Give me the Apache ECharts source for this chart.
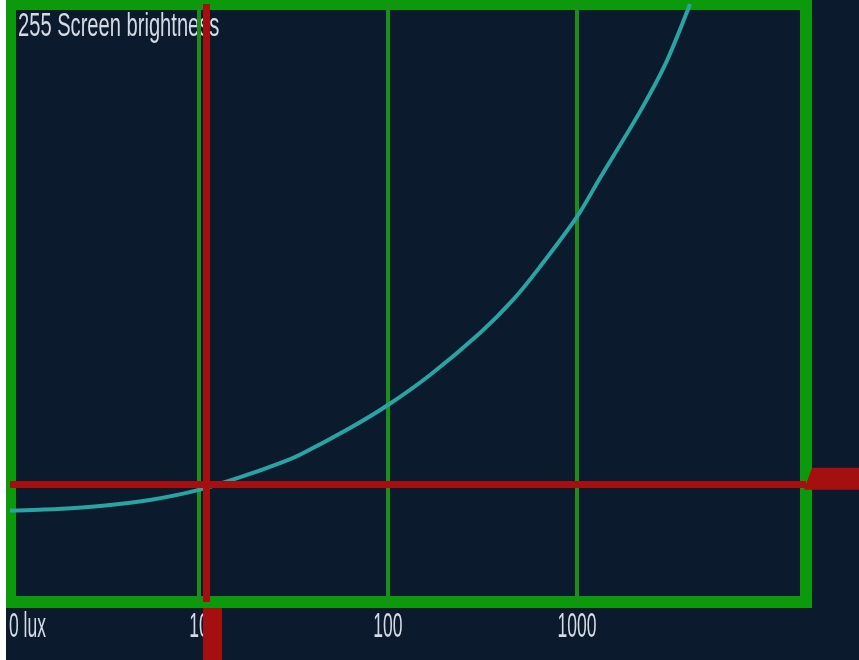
<!DOCTYPE html>
<html><head><meta charset="utf-8">
<script src="https://cdn.jsdelivr.net/npm/echarts@6.0.0/dist/echarts.min.js"></script>
<style>
html,body{margin:0;padding:0;background:#ffffff;width:859px;height:660px;overflow:hidden}
#c{position:absolute;left:6px;top:0;width:853px;height:660px;background:#0b1a2d}
</style>
</head><body><div id="c"></div>
<script>
// ---- data ----
const luxValues = [1, 1.8, 3, 5.5, 10, 18.6, 27, 34, 63, 100, 167, 307, 459, 637, 1000, 1325, 2154, 2924, 3866, 3960];
const brightnessValues = [39, 39.7, 40.9, 43.5, 47.8, 54.6, 59.3, 62.7, 74.2, 84, 96.8, 114.7, 128.8, 142.9, 164.2, 180.8, 209, 229, 252.5, 255];
const tickValues = [1, 10, 100, 1000];
const tickLabels = ['0 lux', '10', '100', '1000'];
const gridLuxValues = [10, 100, 1000];
const axisLuxMax = 16300;
const brightnessMax = 255;
const yAxisTitle = '255 Screen brightness';
const readingLux = 10.9;
const readingBrightness = 50;

const W = 853, H = 660;
const textFont = '"Liberation Sans", Arial, sans-serif';
const textColor = '#d5dbe3';
const chart = echarts.init(document.getElementById('c'), null, {renderer: 'canvas'});

const curve = luxValues.map((x, i) => [x, brightnessValues[i]]);

chart.setOption({
  animation: false,
  backgroundColor: '#0b1a2d',
  grid: {left: 4, right: 53, top: 4, bottom: 58, show: true,
         borderColor: '#0c9a0c', borderWidth: 12, backgroundColor: 'transparent'},
  xAxis: {
    type: 'log', logBase: 10, min: 1, max: axisLuxMax,
    axisLine: {show: false}, axisTick: {show: false}, splitLine: {show: false},
    axisLabel: {show: false}
  },
  yAxis: {
    type: 'value', min: 0, max: brightnessMax,
    axisLine: {show: false}, axisTick: {show: false}, splitLine: {show: false},
    axisLabel: {show: false}
  },
  series: [
    {
      type: 'line', data: [], z: 1, silent: true,
      markLine: {
        silent: true, symbol: 'none', z: 1, animation: false,
        label: {show: false},
        lineStyle: {color: '#1b8e1b', width: 4, type: 'solid'},
        data: gridLuxValues.map(v => ({xAxis: v}))
      }
    },
    {
      type: 'line', data: curve, smooth: 0.3, symbol: 'none', z: 3,
      lineStyle: {color: '#2aa3a3', width: 4}
    },
    {
      type: 'line', data: [], z: 5, silent: true,
      markLine: {
        silent: true, symbol: 'none', z: 6, animation: false,
        label: {show: false},
        lineStyle: {color: '#a50f0f', width: 7, type: 'solid'},
        data: [{xAxis: readingLux}, {yAxis: readingBrightness}]
      }
    }
  ]
});

const px = chart.convertToPixel({xAxisIndex: 0}, readingLux);
const py = chart.convertToPixel({yAxisIndex: 0}, readingBrightness);
const bottomPx = chart.convertToPixel({yAxisIndex: 0}, 0);
const rightPx = chart.convertToPixel({xAxisIndex: 0}, axisLuxMax);

// tick labels placed at the axis's own tick positions
const labelGraphics = tickValues.map((v, i) => {
  const tx = chart.convertToPixel({xAxisIndex: 0}, v);
  return {
    type: 'text', z: 4,
    x: i === 0 ? tx - 1 : tx, y: bottomPx + 25.5, scaleX: 0.5,
    style: {text: tickLabels[i], fill: textColor, fontSize: 35, fontFamily: textFont,
            align: i === 0 ? 'left' : 'center', verticalAlign: 'middle'}
  };
});

chart.setOption({
  graphic: [
    {type: 'text', x: 12, y: 27, scaleX: 0.61, z: 0,
     style: {text: yAxisTitle, fill: textColor, fontSize: 33,
             fontFamily: textFont, verticalAlign: 'middle'}},
    ...labelGraphics,
    {type: 'rect', z: 10,
     shape: {x: px - 3, y: bottomPx + 6, width: 19, height: H - bottomPx - 6},
     style: {fill: '#a50f0f'}},
    {type: 'polygon', z: 10,
     shape: {points: [[rightPx - 2, py + 5], [rightPx + 6, py - 17], [W, py - 17], [W, py + 5]]},
     style: {fill: '#a50f0f'}}
  ]
});
</script>
</body></html>
